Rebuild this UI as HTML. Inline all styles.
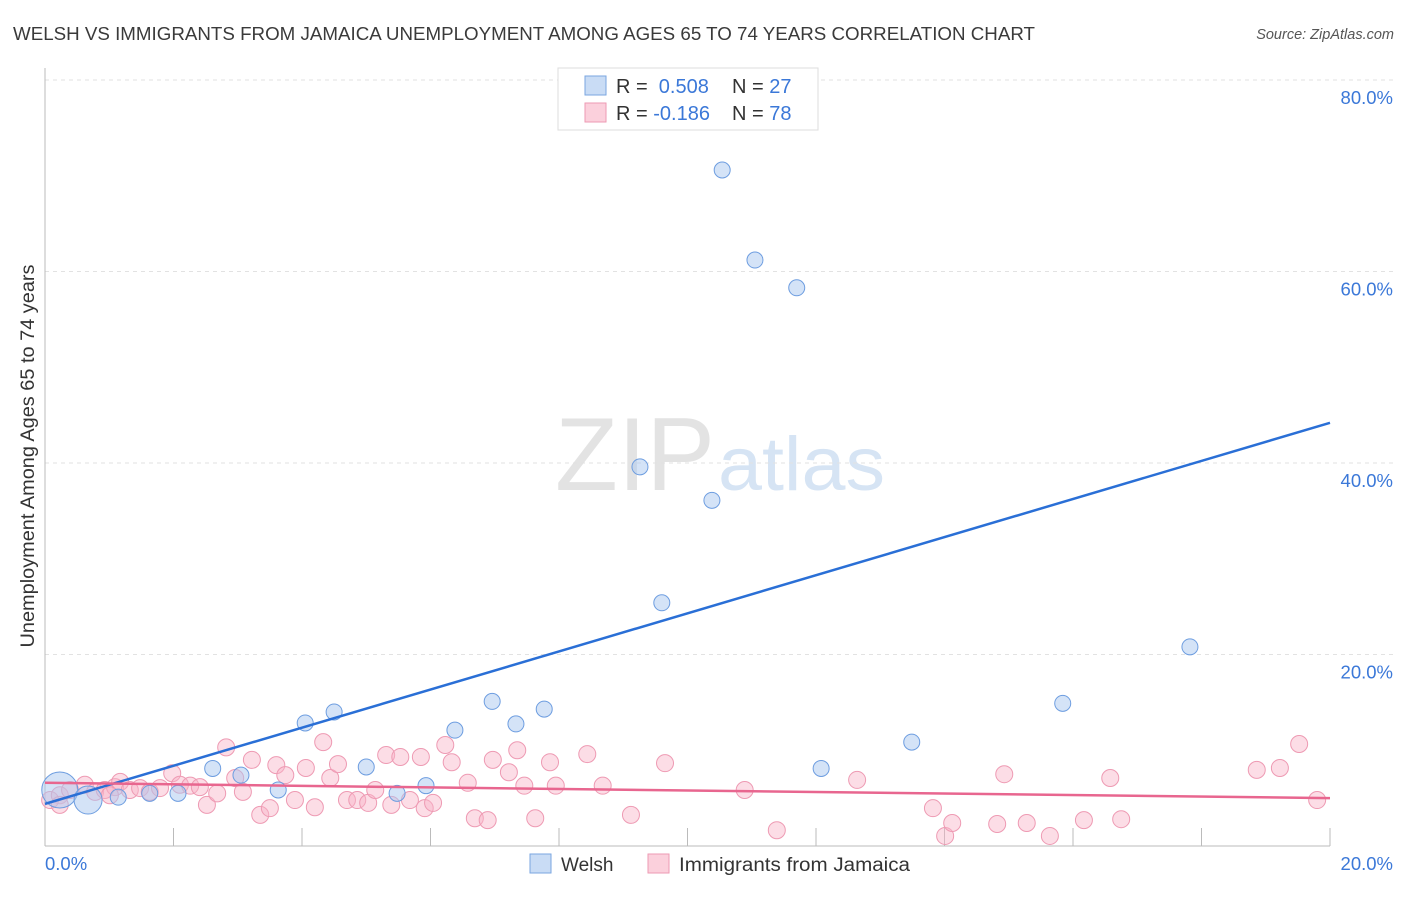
<!DOCTYPE html>
<html><head><meta charset="utf-8"><style>
body{margin:0;background:#fff;font-family:"Liberation Sans",sans-serif}
svg text{font-family:"Liberation Sans",sans-serif}
</style></head><body>
<svg width="1406" height="892" id="chart">
<text x="13" y="40" font-size="18.5" fill="#3a3a3a" textLength="1022" lengthAdjust="spacingAndGlyphs">WELSH VS IMMIGRANTS FROM JAMAICA UNEMPLOYMENT AMONG AGES 65 TO 74 YEARS CORRELATION CHART</text>
<text x="1394" y="39" font-size="14.5" fill="#555" font-style="italic" text-anchor="end">Source: ZipAtlas.com</text>
<text x="555" y="490" font-size="104" fill="#e3e3e3" font-family="Liberation Serif" textLength="160" lengthAdjust="spacingAndGlyphs">ZIP</text>
<text x="718" y="490" font-size="76" fill="#d6e4f4" textLength="167" lengthAdjust="spacingAndGlyphs">atlas</text>
<text transform="translate(34,456) rotate(-90)" font-size="19" fill="#333" text-anchor="middle" textLength="383" lengthAdjust="spacingAndGlyphs">Unemployment Among Ages 65 to 74 years</text>
<g id="grid"></g><g id="axes"></g><g id="marks"></g>
<g>
<rect x="558" y="68" width="260" height="62" fill="#fff" stroke="#ddd"/>
<rect x="585" y="76" width="21" height="19" fill="#c9dcf5" stroke="#7aa6e0"/>
<rect x="585" y="103" width="21" height="19" fill="#fbd0dc" stroke="#ee9ab3"/>
<text x="616" y="93" font-size="20" fill="#333">R = <tspan fill="#3b78d8">&#160;0.508</tspan><tspan x="732">N = </tspan><tspan fill="#3b78d8">27</tspan></text>
<text x="616" y="120" font-size="20" fill="#333">R = <tspan fill="#3b78d8">-0.186</tspan><tspan x="732">N = </tspan><tspan fill="#3b78d8">78</tspan></text>
</g>
<g>
<rect x="530" y="854" width="21" height="19" fill="#c9dcf5" stroke="#7aa6e0"/>
<text x="561" y="871" font-size="19" fill="#333">Welsh</text>
<rect x="648" y="854" width="21" height="19" fill="#fbd0dc" stroke="#ee9ab3"/>
<text x="679" y="871" font-size="19" fill="#333" textLength="231" lengthAdjust="spacingAndGlyphs">Immigrants from Jamaica</text>
</g>
</svg>
<script>
const yTicks=[20,40,60,80];
const xTickLabels=["0.0%","20.0%"];
const welshX=[0.23,0.67,1.14,1.63,2.07,2.61,3.05,3.63,4.05,4.5,5.0,5.48,5.93,6.38,6.96,7.33,7.77,9.26,9.6,10.38,10.54,11.05,11.7,12.08,13.49,15.84,17.82];
const welshY=[5.85,4.8,5.1,5.5,5.5,8.1,7.4,5.85,12.85,14.0,8.25,5.5,6.3,12.1,15.1,12.75,14.3,39.6,25.4,36.1,70.6,61.2,58.3,8.1,10.85,14.9,20.8];
const jamX=[0.08,0.23,0.39,0.62,0.78,0.93,1.09,1.17,1.32,1.48,1.63,1.79,1.98,2.1,2.26,2.41,2.52,2.68,2.82,2.96,3.08,3.22,3.35,3.5,3.6,3.74,3.89,4.06,4.2,4.33,4.44,4.56,4.7,4.86,5.03,5.14,5.31,5.39,5.53,5.68,5.85,5.91,6.04,6.23,6.33,6.58,6.69,6.89,6.97,7.22,7.35,7.46,7.63,7.86,7.95,8.44,8.68,9.12,9.65,10.89,11.39,12.64,13.82,14.01,14.12,14.93,14.82,15.28,15.64,16.17,16.58,16.75,18.86,19.22,19.52,19.8,0.23,1.01];
const jamY=[4.8,5.3,5.85,6.4,5.65,5.85,6.15,6.7,5.85,6.05,5.65,6.05,7.6,6.4,6.3,6.15,4.3,5.5,10.3,7.1,5.65,9.0,3.25,3.95,8.45,7.4,4.8,8.15,4.05,10.85,7.1,8.55,4.8,4.8,4.5,5.85,9.5,4.3,9.3,4.8,9.3,3.95,4.5,10.55,8.75,6.6,2.9,2.7,9.0,7.7,10.0,6.3,2.9,8.75,6.3,9.6,6.3,3.25,8.65,5.85,1.65,6.9,3.95,1.05,2.4,7.5,2.3,2.4,1.05,2.7,7.1,2.8,7.95,8.15,10.65,4.8,4.3,5.3];
const welshTrend=[4.4,44.2];
const jamTrend=[6.6,5.0];
const NS="http://www.w3.org/2000/svg";
const X=v=>45+v/20*1285, Y=v=>846-v/80*766;
function mk(t,a,p){const e=document.createElementNS(NS,t);for(const k in a)e.setAttribute(k,a[k]);p.appendChild(e);return e;}
const grid=document.getElementById('grid'),axes=document.getElementById('axes'),marks=document.getElementById('marks');
yTicks.forEach(t=>{
 const l=mk('line',{x1:45,x2:1395,y1:Y(t),y2:Y(t),stroke:'#e2e2e2','stroke-dasharray':'4,4'},grid);
 
 
 const tx=mk('text',{x:1393,y:Y(t)+24,'font-size':18.5,fill:'#3b78d8','text-anchor':'end'},grid);
 tx.textContent=t.toFixed(1)+'%';
 
 
});
const ya=mk('line',{x1:45,x2:45,y1:68,y2:846,stroke:'#bbb'},axes);


const xa=mk('line',{x1:45,x2:1330,y1:846,y2:846,stroke:'#bbb'},axes);


for(let i=1;i<=10;i++){const t=mk('line',{x1:X(i*2),x2:X(i*2),y1:828,y2:846,stroke:'#bbb'},axes);
 
 }
[[0,'start',45],[20,'end',1393]].forEach((d,i)=>{const t=mk('text',{x:d[2],y:870,'font-size':18.5,fill:'#3b78d8','text-anchor':d[1]},axes);t.textContent=xTickLabels[i];
 
 });
jamX.forEach((x,i)=>{const c=mk('circle',{cx:X(x),cy:Y(jamY[i]),r:8.5,fill:'rgba(248,180,200,0.45)',stroke:'#ee9ab3','stroke-width':1},marks);
 
 });
welshX.forEach((x,i)=>{const r=i==0?18:(i==1?14:8);const c=mk('circle',{cx:X(x),cy:Y(welshY[i]),r:r,fill:'rgba(170,200,240,0.5)',stroke:'#6d9de0','stroke-width':1},marks);
 
 });
const bl=mk('line',{x1:X(0),y1:Y(welshTrend[0]),x2:X(20),y2:Y(welshTrend[1]),stroke:'#2a6fd6','stroke-width':2.5},marks);


const pl=mk('line',{x1:X(0),y1:Y(jamTrend[0]),x2:X(20),y2:Y(jamTrend[1]),stroke:'#e8668f','stroke-width':2.5},marks);


</script>
</body></html>
